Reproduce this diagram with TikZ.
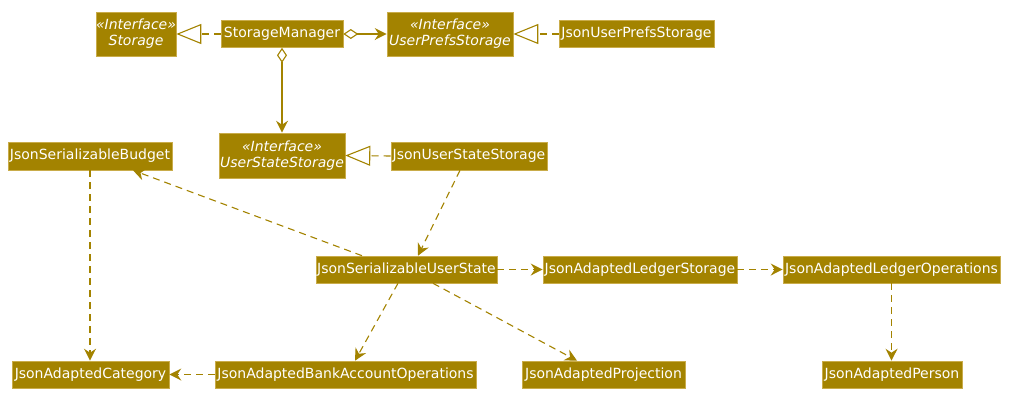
\documentclass[tikz,border=0pt]{standalone}
\usepackage{fontspec}
\setmainfont{DejaVu Sans}
\usetikzlibrary{arrows.meta}
\definecolor{gold}{HTML}{A38300}
\definecolor{goldedge}{HTML}{C9AC4A}
\tikzset{
  cls/.style={fill=gold, draw=goldedge, line width=0.6pt, text=white, inner sep=0pt,
    font=\fontsize{14}{16}\selectfont, align=center},
  iface/.style={cls, font=\fontsize{14}{16}\selectfont\itshape},
  dep/.style={draw=gold, line width=1.1pt, dash pattern=on 7pt off 5pt, -{Stealth[length=12pt,width=12pt,inset=4pt]}},
  real/.style={draw=gold, line width=1.1pt, dash pattern=on 7pt off 5pt, -{Triangle[open,length=25pt,width=20pt]}},
  agg/.style={draw=gold, line width=1.1pt, {Diamond[open,length=15pt,width=10pt]}-{Stealth[length=12pt,width=12pt,inset=4pt]}}
}
\begin{document}
\begin{tikzpicture}[x=1pt,y=-1pt]
\useasboundingbox (0,0) rectangle (1013,402);
\node[iface, minimum width=80pt, minimum height=44pt] (st) at (136,34) {«Interface»\\Storage};
\node[cls, minimum width=122pt, minimum height=27pt] (sm) at (282,34) {StorageManager};
\node[iface, minimum width=126pt, minimum height=44pt] (ups) at (450,34) {«Interface»\\UserPrefsStorage};
\node[cls, minimum width=155pt, minimum height=27pt] (jups) at (636.5,34) {JsonUserPrefsStorage};
\node[cls, minimum width=164pt, minimum height=28pt] (jsb) at (90,156) {JsonSerializableBudget};
\node[iface, minimum width=126pt, minimum height=45pt] (uss) at (282,155.5) {«Interface»\\UserStateStorage};
\node[cls, minimum width=156pt, minimum height=28pt] (juss) at (469,156) {JsonUserStateStorage};
\node[cls, minimum width=181pt, minimum height=27pt] (jsus) at (406.5,269.5) {JsonSerializableUserState};
\node[cls, minimum width=194pt, minimum height=27pt] (jals) at (640,269.5) {JsonAdaptedLedgerStorage};
\node[cls, minimum width=217pt, minimum height=27pt] (jalo) at (891.5,269.5) {JsonAdaptedLedgerOperations};
\node[cls, minimum width=157pt, minimum height=27pt] (jac) at (90.5,374.5) {JsonAdaptedCategory};
\node[cls, minimum width=261pt, minimum height=27pt] (jabo) at (345.5,374.5) {JsonAdaptedBankAccountOperations};
\node[cls, minimum width=163pt, minimum height=27pt] (jap) at (603.5,374.5) {JsonAdaptedProjection};
\node[cls, minimum width=140pt, minimum height=27pt] (japer) at (892,374.5) {JsonAdaptedPerson};

\draw[real] (sm.west) -- (st.east);
\draw[agg] (sm.east) -- (ups.west);
\draw[real] (jups.west) -- (ups.east);
\draw[agg] (sm.south) -- (uss.north);
\draw[real] (juss.west) -- (uss.east);
\draw[dep] (juss.south -| 460,0) -- (jsus.north -| 418,0);
\draw[dep] (jsus.north -| 362,0) -- (jsb.south -| 133,0);
\draw[dep] (jsb.south) -- (jac.north -| jsb.south);
\draw[dep] (jsus.east) -- (jals.west);
\draw[dep] (jals.east) -- (jalo.west);
\draw[dep] (jalo.south) -- (japer.north -| jalo.south);
\draw[dep] (jsus.south -| 398,0) -- (jabo.north -| 355,0);
\draw[dep] (jsus.south -| 433,0) -- (jap.north -| 577,0);
\draw[dep] (jabo.west) -- (jac.east);
\end{tikzpicture}
\end{document}
